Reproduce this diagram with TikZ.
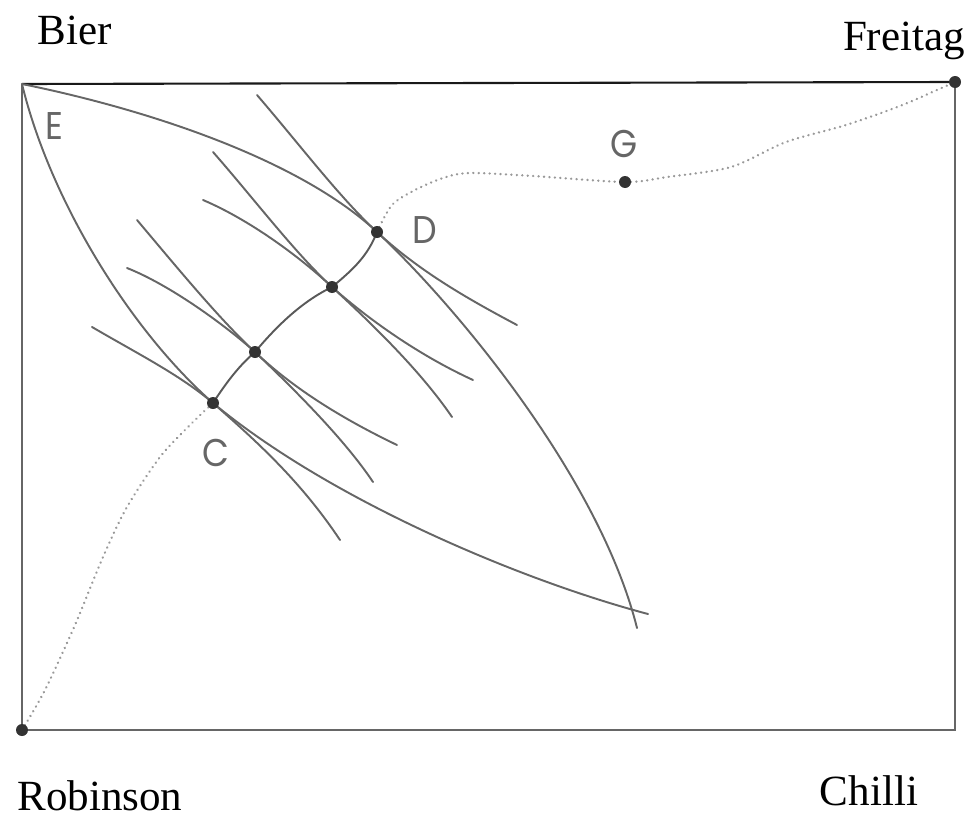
\documentclass[tikz,border=0pt]{standalone}
\usepackage{fontspec}
\setmainfont{Liberation Serif}
\newfontfamily\lblfont[FakeStretch=0.9]{Poppins}
\usetikzlibrary{backgrounds}

\begin{document}
\begin{tikzpicture}[
  x=0.02cm, y=-0.02cm,
  pt/.style={circle, fill=black!80, inner sep=0pt, minimum size=0.24cm},
  ptlbl/.style={font=\lblfont\fontsize{22}{22}\selectfont, text=black!60, inner sep=0pt},
  axlbl/.style={font=\fontsize{24.5}{28}\selectfont, inner sep=0pt, anchor=base},
  frame/.style={draw=black!60, line width=1.3pt},
  topedge/.style={draw=black!90, line width=1.2pt},
  indiff/.style={black!60, line width=1.1pt, line cap=round},
  contract/.style={black!65, line width=1.1pt},
  trail/.style={black!40, line width=1.4pt, dash pattern=on 0.1pt off 3pt, line cap=round}
]
\useasboundingbox (0,0) rectangle (972,821);

%% ---------- ORIGINS + BOX CORNERS ----------
\node[pt] (rob) at (22,730) {};
\node[pt] (fre) at (955,82) {};
\coordinate (e)  at (22,84);
\coordinate (br) at (955,730);

%% ---------- POINTS ----------
\node[pt] (c)  at (213,403) {};
\node[pt] (p1) at (255,352) {};
\node[pt] (p2) at (332,287) {};
\node[pt] (d)  at (377,232) {};
\node[pt] (g)  at (625,182) {};

%% ---------- LABELS ----------
\node[axlbl] (bier)  at (75,45)   {Bier};
\node[axlbl] (frei)  at (904,51)  {Freitag};
\node[axlbl] (robl)  at (100,810) {Robinson};
\node[axlbl] (chil)  at (869,805) {Chilli};
\node[ptlbl] (lble) at (54,126)  {E};
\node[ptlbl] (lblc) at (216,453) {C};
\node[ptlbl] (lbld) at (425,230) {D};
\node[ptlbl] (lblg) at (624,144) {G};

\begin{scope}[on background layer]
%% ---------- BOX ----------
\draw[frame] (e) -- (rob.center) -- (br) -- (fre.center);
\draw[topedge] (e) -- (fre.center);

%% ---------- LENS THROUGH E ----------
\draw[indiff] (e) .. controls (150,110) and (300,160) .. (d.center)
  .. controls (460,310) and (600,480) .. (637,628);
\draw[indiff] (e) .. controls (50,200) and (130,330) .. (c.center)
  .. controls (330,500) and (520,580) .. (648,614);

%% ---------- INDIFFERENCE CURVES ----------
\draw[indiff] (257,95) .. controls (300,145) and (340,198) .. (d.center)
  .. controls (420,272) and (470,300) .. (517,325);
\draw[indiff] (213,152) .. controls (255,200) and (295,253) .. (p2.center)
  .. controls (375,325) and (425,358) .. (473,380);
\draw[indiff] (203,200) .. controls (250,220) and (300,257) .. (p2.center)
  .. controls (370,322) and (420,370) .. (452,417);
\draw[indiff] (137,220) .. controls (175,265) and (220,320) .. (p1.center)
  .. controls (295,390) and (345,420) .. (397,445);
\draw[indiff] (127,268) .. controls (170,285) and (225,325) .. (p1.center)
  .. controls (295,390) and (345,440) .. (373,482);
\draw[indiff] (92,327) .. controls (140,355) and (180,375) .. (c.center)
  .. controls (255,440) and (300,480) .. (340,540);

%% ---------- CONTRACT CURVE ----------
\draw[contract] (c.center) .. controls (228,380) and (240,365) .. (p1.center)
  .. controls (280,322) and (305,300) .. (p2.center)
  .. controls (355,268) and (368,255) .. (d.center);

%% ---------- DOTTED PATHS ----------
\draw[trail] plot[smooth] coordinates {(rob.center) (45,690) (75,625) (103,557)
  (127,507) (160,457) (190,425) (c.center)};
\draw[trail] plot[smooth] coordinates {(d.center) (392,205) (415,190) (443,178)
  (470,173) (533,176) (g.center) (667,177) (731,167) (786,142) (846,125)
  (900,106) (937,90) (fre.center)};
\end{scope}

\end{tikzpicture}
\end{document}
